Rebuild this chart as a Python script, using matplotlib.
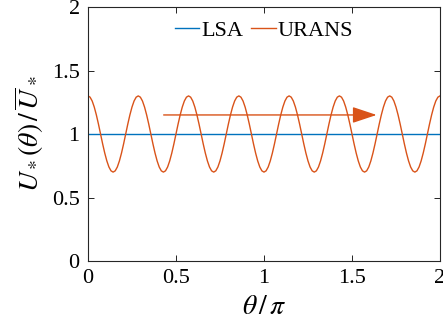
import numpy as np
import matplotlib
matplotlib.use('Agg')
import matplotlib.pyplot as plt

plt.rcParams['font.family'] = ['Liberation Serif', 'DejaVu Serif']
plt.rcParams['mathtext.fontset'] = 'stix'

# values (one period of the URANS curve, 24 samples)
urans_period = [1.300, 1.290, 1.260, 1.212, 1.150, 1.078, 1.000, 0.922,
                0.850, 0.788, 0.740, 0.710, 0.700, 0.710, 0.740, 0.788,
                0.850, 0.922, 1.000, 1.078, 1.150, 1.212, 1.260, 1.290]
n_periods = 7
urans_vals = urans_period * n_periods + [urans_period[0]]
theta = np.linspace(0, 2, len(urans_vals))
lsa_vals = [1.0, 1.0]
lsa_theta = [0, 2]

arrow_start = (0.43, 1.15)
arrow_end = (1.64, 1.15)

blue = '#0072BD'
orange = '#D95319'

fig = plt.figure(figsize=(4.43, 3.27), dpi=100)
ax = fig.add_axes([0.1986, 0.2018, 0.7946, 0.7768])

ax.plot(lsa_theta, lsa_vals, color=blue, lw=1.0, label='LSA')
ax.plot(theta, urans_vals, color=orange, lw=1.0, label='URANS')

ax.annotate('', xy=arrow_end, xytext=arrow_start,
            arrowprops=dict(arrowstyle='-|>,head_length=1.5,head_width=0.5',
                            color=orange, lw=1.0, shrinkA=0, shrinkB=0))

ax.set_xlim(0, 2)
ax.set_ylim(0, 2)
ax.set_xticks([0, 0.5, 1, 1.5, 2])
ax.set_xticklabels(['0', '0.5', '1', '1.5', '2'])
ax.set_yticks([0, 0.5, 1, 1.5, 2])
ax.set_yticklabels(['0', '0.5', '1', '1.5', '2'])
ax.tick_params(direction='in', top=True, right=True, labelsize=16, length=4, width=0.6)
ax.tick_params(axis='x', pad=6)
ax.tick_params(axis='y', pad=6)
for s in ax.spines.values():
    s.set_linewidth(0.8)
    s.set_color('#262626')

ax.set_xlabel(r'$\theta\,/\,\pi$', fontsize=20, labelpad=5)
ax.set_ylabel(r'$U_*(\theta)\,/\,\overline{U}_*$', fontsize=20, labelpad=4)

ax.legend(loc='upper center', ncol=2, frameon=False, fontsize=16,
          handlelength=1.1, handletextpad=0.1, columnspacing=0.35,
          borderaxespad=0.2)

fig.savefig('out.png', dpi=100)
